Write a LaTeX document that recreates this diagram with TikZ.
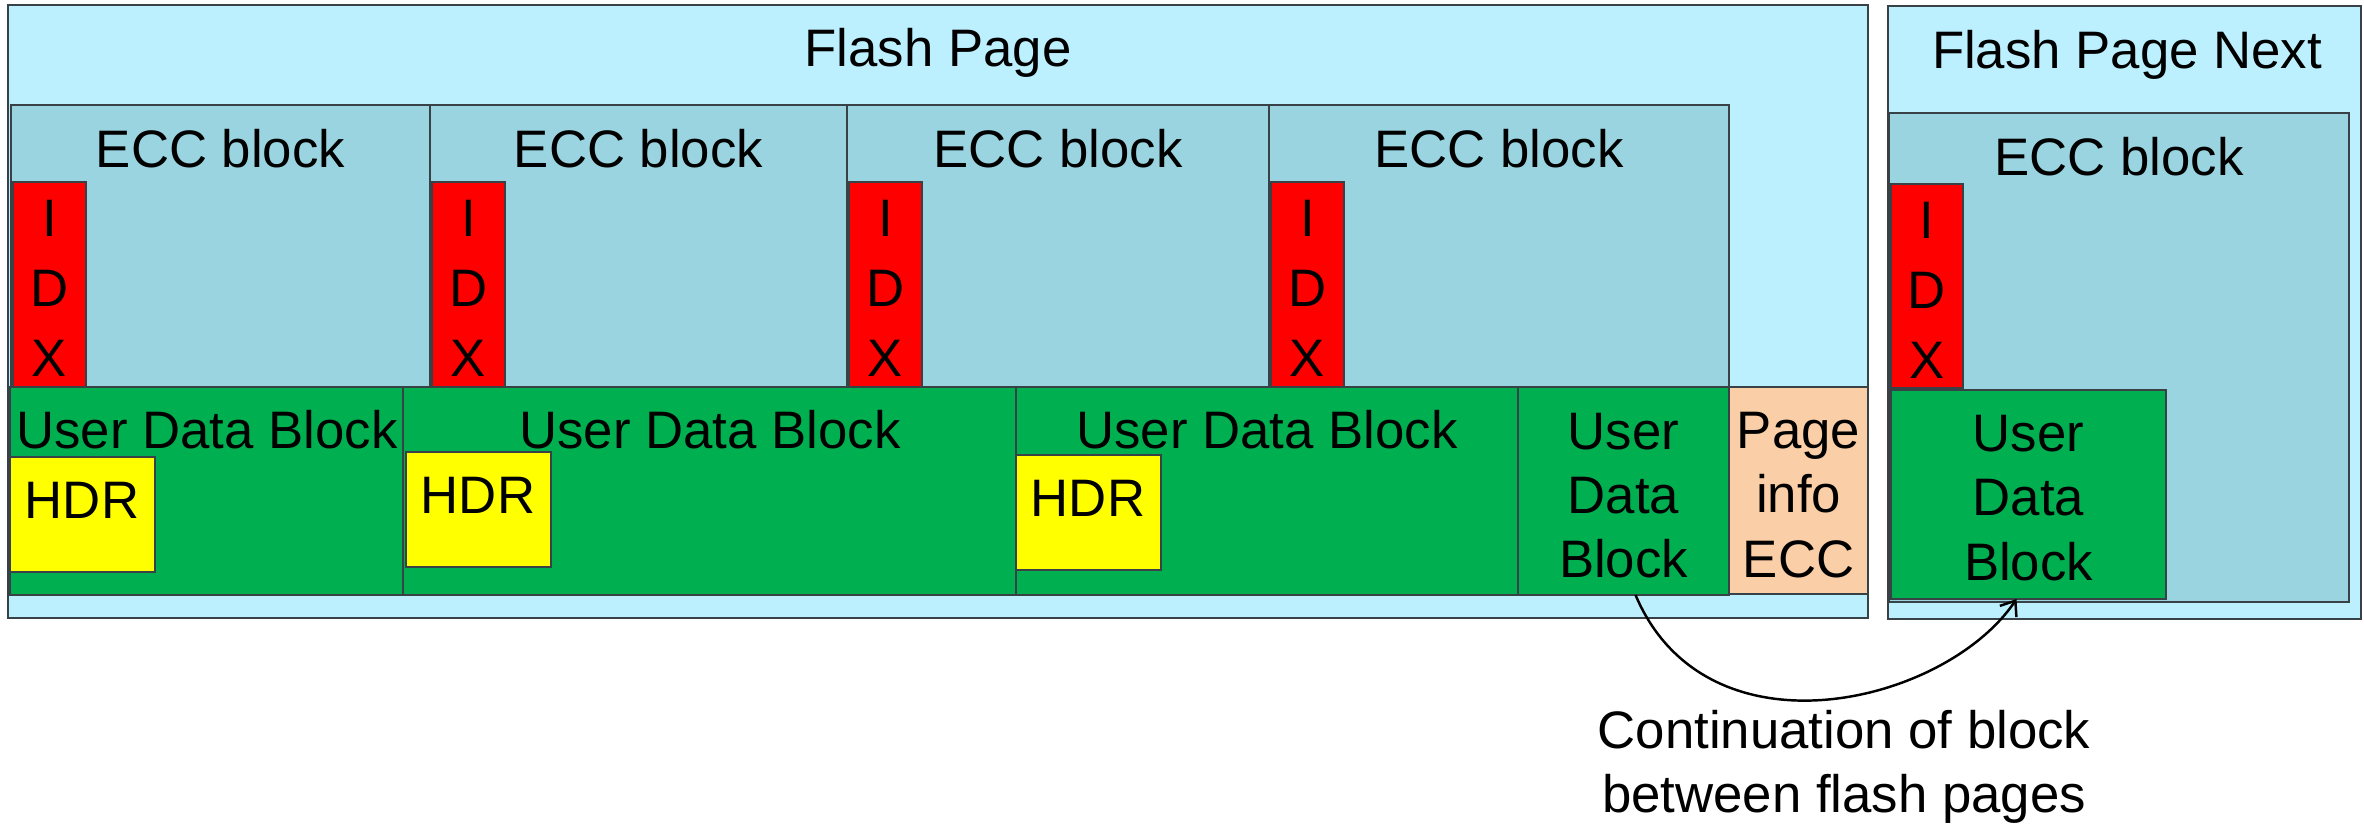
\documentclass[tikz,border=0pt]{standalone}
\usepackage{fontspec}
\setmainfont{Liberation Sans}
\usetikzlibrary{positioning}
\usetikzlibrary{fit}
\usetikzlibrary{arrows.meta}
\definecolor{pagecol}{RGB}{189,240,255}
\definecolor{ecccol}{RGB}{153,212,224}
\definecolor{udbcol}{RGB}{0,176,80}
\definecolor{hdrcol}{RGB}{255,255,0}
\definecolor{idxcol}{RGB}{255,0,0}
\definecolor{infocol}{RGB}{250,206,166}
\definecolor{edgecol}{RGB}{55,65,70}
\tikzset{every picture/.style={line width=0.6pt}}

\begin{document}
\begin{tikzpicture}[x=0.01cm, y=-0.01cm,
every node/.style={font=\fontsize{15}{18.3}\selectfont, inner sep=0pt, outer sep=0pt},
box/.style={draw=edgecol, rectangle},
page/.style={box, fill=pagecol, line width=0.8pt},
eccbox/.style={box, fill=ecccol},
idxbox/.style={box, fill=idxcol},
idxtxt/.style={align=center, font=\fontsize{15}{19.9}\selectfont},
udb/.style={box, fill=udbcol},
hdr/.style={box, fill=hdrcol},
info/.style={box, fill=infocol},
lbl/.style={anchor=base},
stack/.style={align=center}]

\useasboundingbox (0,0) rectangle (2364,824);

% current page
\node (fp) [page, fit={(8,5) (1868,618)}] {};
\node (tfp) at (938,67) [lbl] {Flash Page};

\foreach \i/\a/\b in {1/11/430, 2/430/847, 3/847/1269, 4/1269/1729}
{
 \node (ecc\i) [eccbox, fit={(\a,105) (\b,387)}] {};
 \node (idx\i) [idxbox, fit={(\a+2,182) (\a+75,387)}] {};
 \node (tidx\i) at ([yshift=-0.04cm]idx\i.center) [idxtxt] {I\\D\\X};
 \node (tecc\i) at ({(\a+\b)/2},167) [lbl] {ECC block};
}

\node (udb1) [udb, fit={(10,387) (403,595)}] {};
\node (udb2) [udb, fit={(403,387) (1016,595)}] {};
\node (udb3) [udb, fit={(1016,387) (1518,595)}] {};
\node (udb4) [udb, fit={(1518,387) (1729,595)}] {};
\node (tudb4) at ([yshift=-0.045cm]udb4.center) [stack] {User\\Data\\Block};
\node (pinfo) [info, fit={(1729,387) (1868,594)}] {};
\node (tpinfo) at ([yshift=-0.045cm]pinfo.center) [stack] {Page\\info\\ECC};

\foreach \i/\x in {1/207, 2/710, 3/1267}
 { \node (tudb\i) at (\x,448) [lbl] {User Data Block}; }

\foreach \i/\a/\t in {1/10/457, 2/406/452, 3/1016/455}
{
 \node (hdr\i) [hdr, fit={(\a,\t) (\a+145,\t+115)}] {};
 \node (thdr\i) at (\a+72,\t+61) [lbl] {HDR};
}

% next page
\node (fpn) [page, fit={(1888,6) (2361,619)}] {};
\node (tfpn) at (2127,68) [lbl] {Flash Page Next};
\node (necc) [eccbox, fit={(1889,113) (2349,602)}] {};
\node (tnecc) at (2119,175) [lbl] {ECC block};
\node (nidx) [idxbox, fit={(1891,184) (1963,388)}] {};
\node (tnidx) at ([yshift=-0.04cm]nidx.center) [idxtxt] {I\\D\\X};
\node (nudb) [udb, fit={(1891,390) (2166,599)}] {};
\node (tnudb) at ([yshift=-0.035cm]nudb.center) [stack] {User\\Data\\Block};

% continuation
\draw [-{Straight Barb[length=0.13cm, width=0.2cm]}, line width=0.7pt]
 ([xshift=0.12cm]udb4.south) .. controls +(-67:1.82cm) and +(-124:1.27cm) .. ([xshift=-0.12cm]nudb.south);
\node (note) at (1844,767) [stack] {Continuation of block\\between flash pages};

\end{tikzpicture}
\end{document}
